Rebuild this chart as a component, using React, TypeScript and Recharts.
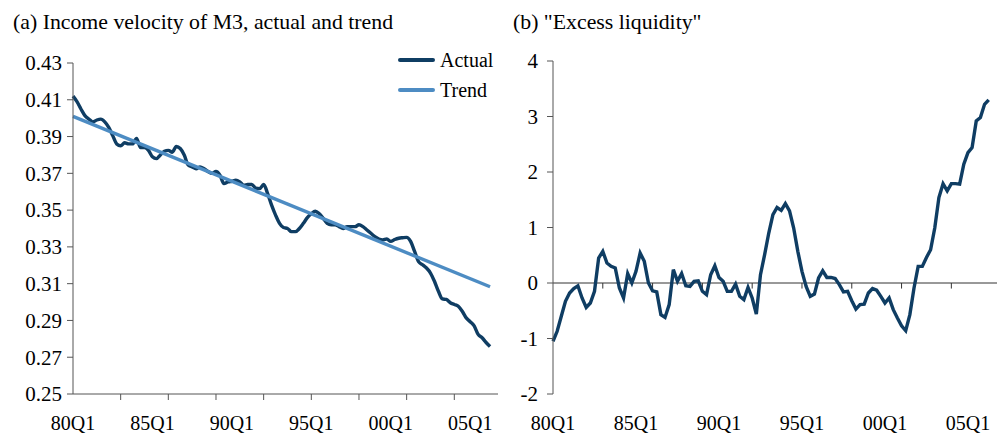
import React from 'react'
import { LineChart, Line, XAxis, YAxis, ReferenceLine, Legend } from 'recharts'

// quarterly data, 80Q1 .. 06Q2 (index 0 = 80Q1)
const velocityActual = [
  0.412, 0.409, 0.405, 0.4014, 0.3995, 0.398, 0.399, 0.3995, 0.398, 0.395,
  0.3905, 0.386, 0.385, 0.3866, 0.386, 0.386, 0.389, 0.384, 0.384, 0.3825,
  0.379, 0.378, 0.38, 0.382, 0.3825, 0.3815, 0.3846, 0.3835, 0.38, 0.3745,
  0.3735, 0.3725, 0.3735, 0.3725, 0.371, 0.37, 0.371, 0.369, 0.3644, 0.3653,
  0.3657, 0.3662, 0.3653, 0.3635, 0.3639, 0.364, 0.362, 0.3617, 0.3639, 0.359,
  0.3527, 0.3473, 0.3428, 0.3405, 0.34, 0.3383, 0.3383, 0.34, 0.3428, 0.3459,
  0.348, 0.3494, 0.348, 0.3455, 0.3428, 0.342, 0.342, 0.341, 0.34, 0.341,
  0.341, 0.341, 0.342, 0.341, 0.3392, 0.3374, 0.3356, 0.3343, 0.3338, 0.3343,
  0.333, 0.334, 0.3347, 0.335, 0.3352, 0.333, 0.3275, 0.322, 0.3203, 0.3185,
  0.3158, 0.3113, 0.3059, 0.3017, 0.3014, 0.2996, 0.2987, 0.2977, 0.295, 0.2914,
  0.2893, 0.287, 0.2824, 0.2806, 0.278, 0.2758,
]

// linear trend, only the two end points are given
const velocityTrendStart = 0.401
const velocityTrendEnd = 0.3083

const excessLiquidity = [
  -1.05, -0.87, -0.6, -0.33, -0.18, -0.1, -0.05, -0.27, -0.44, -0.36,
  -0.15, 0.45, 0.57, 0.36, 0.3, 0.27, -0.09, -0.27, 0.17, 0.0,
  0.21, 0.54, 0.39, 0.0, -0.14, -0.16, -0.57, -0.62, -0.39, 0.24,
  0.03, 0.17, -0.05, -0.06, 0.03, 0.04, -0.15, -0.21, 0.15, 0.31,
  0.1, 0.03, -0.15, -0.15, -0.02, -0.24, -0.3, -0.08, -0.27, -0.56,
  0.15, 0.51, 0.9, 1.23, 1.36, 1.31, 1.43, 1.3, 0.99, 0.57,
  0.21, -0.06, -0.24, -0.2, 0.09, 0.22, 0.1, 0.1, 0.08, -0.03,
  -0.16, -0.15, -0.32, -0.47, -0.39, -0.38, -0.18, -0.1, -0.13, -0.24,
  -0.36, -0.27, -0.48, -0.63, -0.77, -0.86, -0.57, -0.09, 0.3, 0.3,
  0.46, 0.6, 0.99, 1.54, 1.79, 1.66, 1.79, 1.79, 1.78, 2.14,
  2.35, 2.44, 2.92, 2.98, 3.22, 3.3,
]

const xLabelIdx = [0, 20, 40, 60, 80, 100]
const xLabels = ['80Q1', '85Q1', '90Q1', '95Q1', '00Q1', '05Q1']
const xTickMarkIdx = [12, 24, 36, 48, 60, 72, 84, 96]
const leftYTicks = [0.25, 0.27, 0.29, 0.31, 0.33, 0.35, 0.37, 0.39, 0.41, 0.43]
const rightYTicks = [-2, -1, 0, 1, 2, 3, 4]

const serif = '"Liberation Serif", "Times New Roman", serif'
const axisColor = '#555'
const darkBlue = '#0f3d63'
const lightBlue = '#4d8cc3'

const velocityData = velocityActual.map((v, i) => ({
  i,
  actual: v,
  trend: i === 0 ? velocityTrendStart : i === velocityActual.length - 1 ? velocityTrendEnd : null,
}))
const liquidityData = excessLiquidity.map((v, i) => ({ i, value: v }))

const allBottomTicks = Array.from(new Set([...xLabelIdx, ...xTickMarkIdx])).sort((a, b) => a - b)

function BottomTick(props: any) {
  const { x, y, payload, marks } = props
  const v = payload.value
  const li = xLabelIdx.indexOf(v)
  return (
    <g>
      {marks && xTickMarkIdx.includes(v) && (
        <line x1={x} y1={y} x2={x} y2={y + 6} stroke={axisColor} />
      )}
      {li >= 0 && (
        <text x={x} y={y + 36} textAnchor="middle" fill="#000" style={{ fontSize: 20, fontFamily: serif }}>
          {xLabels[li]}
        </text>
      )}
    </g>
  )
}

function LeftTick(props: any) {
  const { x, y, payload, digits } = props
  const v = Number(payload.value)
  return (
    <text x={x} y={y} dy="0.35em" textAnchor="end" fill="#000" style={{ fontSize: 21, fontFamily: serif }}>
      {digits ? v.toFixed(digits) : String(v)}
    </text>
  )
}

function LegendBox({ payload }: any) {
  return (
    <div>
      {(payload || []).map((p: any) => (
        <div key={p.value} style={{ display: 'flex', alignItems: 'center', height: 30 }}>
          <span style={{ width: 37, height: 4, borderRadius: 2, background: p.color, marginRight: 5 }} />
          <span style={{ fontSize: 20, fontFamily: serif, color: '#000' }}>{p.value}</span>
        </div>
      ))}
    </div>
  )
}

const titleStyle: React.CSSProperties = {
  position: 'absolute',
  top: 12,
  fontSize: 21.8,
  lineHeight: '21px',
  fontFamily: serif,
  color: '#000',
  whiteSpace: 'nowrap',
}

export default function App() {
  return (
    <div style={{ position: 'absolute', left: 0, top: 0, width: 998, height: 434, background: '#fff', overflow: 'hidden', fontFamily: serif }}>
      <div style={{ ...titleStyle, left: 13 }}>(a) Income velocity of M3, actual and trend</div>
      <div style={{ ...titleStyle, left: 513 }}>(b) "Excess liquidity"</div>

      <div style={{ position: 'absolute', left: 0, top: 0 }}>
        <LineChart width={500} height={434} data={velocityData} margin={{ top: 63, right: 2, bottom: 0, left: 0 }} style={{ fontFamily: serif }}>
          <XAxis
            type="number"
            dataKey="i"
            domain={[0, 107]}
            ticks={allBottomTicks}
            interval={0}
            height={40}
            tickSize={0}
            tickMargin={0}
            tickLine={false}
            stroke={axisColor}
            tick={<BottomTick marks />}
          />
          <YAxis
            domain={[0.25, 0.43]}
            ticks={leftYTicks}
            interval={0}
            width={73}
            tickSize={6}
            tickMargin={5}
            stroke={axisColor}
            tick={<LeftTick digits={2} />}
          />
          <Legend
            layout="vertical"
            align="center"
            verticalAlign="middle"
            wrapperStyle={{ top: 45, left: 398, width: 100 }}
            content={<LegendBox />}
          />
          <Line
            type="monotone"
            dataKey="actual"
            name="Actual"
            stroke={darkBlue}
            strokeWidth={3.4}
            dot={false}
            isAnimationActive={false}
          />
          <Line
            type="linear"
            dataKey="trend"
            name="Trend"
            stroke={lightBlue}
            strokeWidth={3.4}
            dot={false}
            connectNulls
            isAnimationActive={false}
          />
        </LineChart>
      </div>

      <div style={{ position: 'absolute', left: 500, top: 0 }}>
        <LineChart width={498} height={434} data={liquidityData} margin={{ top: 61, right: 1, bottom: 0, left: 0 }} style={{ fontFamily: serif }}>
          <XAxis
            type="number"
            dataKey="i"
            domain={[0, 107]}
            ticks={xLabelIdx}
            interval={0}
            height={40}
            tickSize={0}
            tickMargin={0}
            tickLine={false}
            axisLine={false}
            tick={<BottomTick />}
          />
          <YAxis
            domain={[-2, 4]}
            ticks={rightYTicks}
            interval={0}
            width={53}
            tickSize={6}
            tickMargin={9}
            stroke={axisColor}
            tick={<LeftTick />}
          />
          <ReferenceLine y={0} stroke="#333" strokeWidth={1} />
          {xTickMarkIdx.map((t) => (
            <ReferenceLine
              key={t}
              segment={[{ x: t, y: 0 }, { x: t, y: -0.1 }]}
              stroke="#333"
              strokeWidth={1}
            />
          ))}
          <Line
            type="linear"
            dataKey="value"
            name="Excess liquidity"
            stroke={darkBlue}
            strokeWidth={3.4}
            dot={false}
            isAnimationActive={false}
          />
        </LineChart>
      </div>
    </div>
  )
}
